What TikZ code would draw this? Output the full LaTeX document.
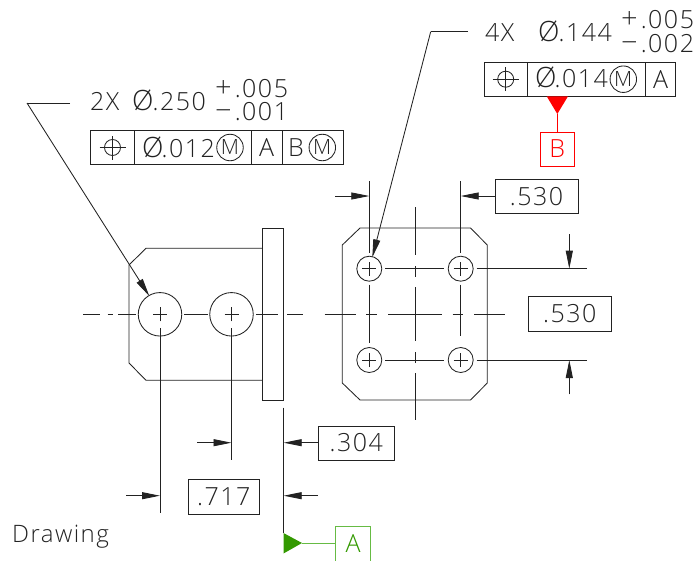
\documentclass[tikz,border=0pt]{standalone}
\usepackage{fontspec}
\setmainfont{Open Sans}[UprightFont=* Light,LetterSpace=6]
\usetikzlibrary{arrows.meta}
\definecolor{ink}{HTML}{222222}
\definecolor{txt}{HTML}{222222}
\definecolor{grn}{HTML}{339900}
\definecolor{grnl}{HTML}{66BB44}
\newcommand{\dia}{{\fontsize{28}{28}\selectfont Ø}}
\newcommand{\bigsign}[1]{\smash{\fontsize{29}{29}\selectfont #1}}
\tikzset{
 ln/.style={draw=ink,line width=0.85pt},
 dim/.style={ln,-{Triangle[length=18pt,width=7pt]}},
 lbl/.style={inner sep=0pt,text=txt,anchor=base west,font=\fontsize{25}{25}\selectfont},
 dimbox/.style={ln,rectangle,inner sep=0pt,text=txt,font=\fontsize{25}{25}\selectfont},
 hole/.style={ln,circle,inner sep=0pt},
 cellbox/.style={ln,rectangle,inner sep=0pt,text=txt,font=\fontsize{25}{25}\selectfont},
 mm/.style={ln,circle,inner sep=0pt,minimum size=26.5pt,text=txt,font=\fontsize{21}{21}\selectfont},
}
\newcommand{\posn}[1]{%
 \draw[ln] (#1.center) circle (8);
 \draw[ln] ([xshift=-13pt]#1.center) -- ([xshift=13pt]#1.center);
 \draw[ln] ([yshift=-12pt]#1.center) -- ([yshift=12pt]#1.center);}
\newcommand{\cross}[1]{%
 \draw[ln] ([xshift=-7pt]#1.center) -- ([xshift=7pt]#1.center);
 \draw[ln] ([yshift=-7pt]#1.center) -- ([yshift=7pt]#1.center);}
\begin{document}
\begin{tikzpicture}[x=1pt,y=-1pt]
\useasboundingbox (0,0) rectangle (699,560);
% ---- left view
\draw[ln] (262.3,248.3) -- (146,248.3) -- (129,265) -- (129,363) -- (146,380.3) -- (262.3,380.3);
\node[ln,rectangle,inner sep=0pt,minimum width=21.5pt,minimum height=172.5pt] (flange) at (273,314.2) {};
\node[hole,minimum size=43.5pt] (h1) at (160,314.3) {};
\node[hole,minimum size=43.5pt] (h2) at (231.5,314.3) {};
\cross{h1}\cross{h2}
\foreach \a/\b in {83/99.5,107.5/113,118/136,184/208,256/278,287/303}
  \draw[ln] (\a,314.3) -- (\b,314.3);
\coordinate (e1a) at (160,328); \coordinate (e1b) at (160,512.7);
\coordinate (e2a) at (231.5,328); \coordinate (e2b) at (231.5,460);
\draw[ln] (e1a) -- (e1b);
\draw[ln] (e2a) -- (e2b);
\coordinate (d1) at (126,495.7); \coordinate (d1t) at (160,495.7);
\coordinate (d2) at (197,442.7); \coordinate (d2t) at (231.5,442.7);
\draw[dim] (d1) -- (d1t);
\draw[dim] (d2) -- (d2t);
\node[dimbox,minimum width=76.5pt,minimum height=34pt] (b304) at (356.3,443) {.304};
\node[dimbox,minimum width=71.5pt,minimum height=34.5pt] (b717) at (223.7,496.7) {.717};
\coordinate (d3) at (318,495.7); \coordinate (d3t) at (283.7,495.7);
\coordinate (d4t) at (283.7,442.7);
\draw[dim] (b304.west |- d4t) -- (d4t);
\draw[dim] (d3) -- (d3t);
% datum A
\coordinate (dA1) at (283.7,407.5); \coordinate (dA2) at (283.7,533);
\draw[ln] (dA1) -- (dA2);
\fill[grn] (283.5,533) -- (283.5,553.5) -- (302,543) -- cycle;
\node[draw=grnl,line width=0.85pt,rectangle,inner sep=0pt,minimum width=35pt,minimum height=35pt,text=grn,font=\fontsize{25}{25}\selectfont] (A) at (353,543.5) {A};
\coordinate (gA) at (302,543);
\draw[grnl,line width=0.85pt] (gA) -- (A.west |- gA);
% ---- right view
\draw[ln] (360,228) -- (470.5,228) -- (487.3,245) -- (487.3,383) -- (470.5,400) -- (360,400) -- (342.3,383) -- (342.3,245) -- cycle;
\foreach \n/\x/\y in {p1/369.3/268.7,p2/460.7/268.7,p3/369.3/360,p4/460.7/360}{
  \node[hole,minimum size=25pt] (\n) at (\x,\y) {};
  \cross{\n}
}
\foreach \a/\b in {324.7/355.7,366/376.7,388.3/441.7,452.7/463.3,474.3/505}
  \draw[ln] (\a,314.3) -- (\b,314.3);
\foreach \a/\b in {207.3/255,266/276.7,287.3/340.7,352/362.7,373.3/420}
  \draw[ln] (415,\a) -- (415,\b);
\foreach \y in {268.7,360}{
  \draw[ln] (385.3,\y) -- (444.3,\y);
  \draw[ln] (476.7,\y) -- (586.7,\y);
}
\draw[ln] (369.3,181) -- (369.3,252.7);
\draw[ln] (460.7,181) -- (460.7,252.7);
\draw[ln] (369.3,284.7) -- (369.3,343.3);
\draw[ln] (460.7,284.7) -- (460.7,335.7);
\node[dimbox,minimum width=83pt,minimum height=34.5pt] (b530a) at (536.5,196.3) {.530};
\node[dimbox,minimum width=83pt,minimum height=34.5pt] (b530b) at (569.8,314) {.530};
\coordinate (t1s) at (335,196); \coordinate (t1t) at (369.3,196); \coordinate (t2t) at (460.7,196);
\draw[dim] (t1s) -- (t1t);
\draw[dim] (b530a.west |- t2t) -- (t2t);
\coordinate (v1s) at (569.3,234.3); \coordinate (v1t) at (569.3,268.7);
\coordinate (v2s) at (569.3,394.3); \coordinate (v2t) at (569.3,360);
\draw[dim] (v1s) -- (v1t);
\draw[dim] (v2s) -- (v2t);
% ---- callout left
\coordinate (l1a) at (70,103); \coordinate (l1b) at (27,103); \coordinate (l1t) at (149.3,296);
\draw[ln] (l1a) -- (l1b);
\draw[dim] (l1b) -- (l1t);
\node[lbl] (t2x) at (90,110.7) {2X};
\node[lbl] (t250) at (132,110.7) {\dia\hspace{-1pt}.250};
\node[lbl] (tp1) at (215,97.5) {\bigsign{+}\hspace{3pt}.005};
\node[lbl] (tm1) at (215,120.7) {\bigsign{−}\hspace{3pt}.001};
% fcf left
\node[cellbox,minimum width=43.6pt,minimum height=34.4pt] (c1) at (112.5,147.5) {};
\node[cellbox,minimum width=117pt,minimum height=34.4pt] (c2) at (192.8,147.5) {};
\node[cellbox,minimum width=30.7pt,minimum height=34.4pt] (c3) at (266.7,147.5) {A};
\node[cellbox,minimum width=61.7pt,minimum height=34.4pt] (c4) at (312.8,147.5) {};
\posn{c1}
\node[lbl] (c2t) at (142,157.3) {\dia\hspace{-2pt}.012};
\node[mm] (c2m) at (230,147.5) {M};
\node[lbl,anchor=center] (c4t) at (296,147.5) {B};
\node[mm] (c4m) at (322.3,147.5) {M};
% ---- callout right
\coordinate (l2a) at (468,31.7); \coordinate (l2b) at (430.7,31.7); \coordinate (l2t) at (372.3,257.3);
\draw[ln] (l2a) -- (l2b);
\draw[dim] (l2b) -- (l2t);
\node[lbl] (t4x) at (485,41) {4X};
\node[lbl] (t144) at (538,41) {\dia\hspace{-1pt}.144};
\node[lbl] (tp2) at (621,28.3) {\bigsign{+}\hspace{3pt}.005};
\node[lbl] (tm2) at (621,52.3) {\bigsign{−}\hspace{3pt}.002};
\node[cellbox,minimum width=43.3pt,minimum height=34.3pt] (f1) at (505.7,79.2) {};
\node[cellbox,minimum width=118pt,minimum height=34.3pt] (f2) at (586.3,79.2) {};
\node[cellbox,minimum width=30.4pt,minimum height=34.3pt] (f3) at (660.5,79.2) {A};
\posn{f1}
\node[lbl] (f2t) at (535,87.3) {\dia\hspace{-2pt}.014};
\node[mm] (f2m) at (623.3,79.2) {M};
% datum B
\fill[red] (546.7,96.3) -- (568,96.3) -- (557.3,114) -- cycle;
\node[draw=red,line width=0.85pt,rectangle,inner sep=0pt,minimum width=34.7pt,minimum height=34pt,text=red,font=\fontsize{25}{25}\selectfont] (B) at (557.3,149) {B};
\coordinate (rB) at (557.3,114);
\draw[red,line width=0.85pt] (rB) -- (B.north);
\node[lbl,font=\fontsize{24}{24}\selectfont] (cap) at (12,542.7) {Drawing};
\end{tikzpicture}
\end{document}
